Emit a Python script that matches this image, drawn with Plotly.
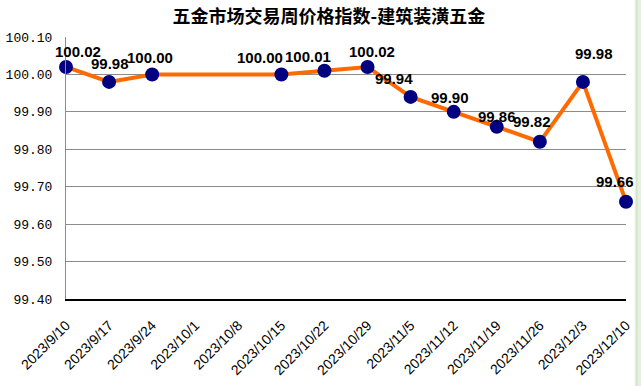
import plotly.graph_objects as go

categories = ["2023/9/10", "2023/9/17", "2023/9/24", "2023/10/1", "2023/10/8",
              "2023/10/15", "2023/10/22", "2023/10/29", "2023/11/5", "2023/11/12",
              "2023/11/19", "2023/11/26", "2023/12/3", "2023/12/10"]
values = [100.02, 99.98, 100.00, None, None, 100.00, 100.01, 100.02,
          99.94, 99.90, 99.86, 99.82, 99.98, 99.66]
y_ticks = [99.40, 99.50, 99.60, 99.70, 99.80, 99.90, 100.00, 100.10]
title = "五金市场交易周价格指数-建筑装潢五金"

# label placement offsets (pixels), styling only
label_dx = [12, 1, -2, 0, 0, -21, -16, 4, -17, -4, 0, -8, 11, -11]
label_dy = [15, 18, 17, 0, 0, 17, 14, 15, 18, 14, 10, 20, 28, 20]

fig = go.Figure()
fig.add_trace(go.Scatter(
    x=categories, y=values, mode="lines+markers", connectgaps=True,
    line=dict(color="#FF6A00", width=4),
    marker=dict(color="#000080", size=14),
    cliponaxis=False, showlegend=False, hoverinfo="skip",
))

for i, (c, v) in enumerate(zip(categories, values)):
    if v is None:
        continue
    fig.add_annotation(
        x=c, y=v, text=f"{v:.2f}", showarrow=False,
        xanchor="center", yanchor="middle",
        xshift=label_dx[i], yshift=label_dy[i],
        font=dict(family="Liberation Sans, Arial", size=15, color="black", weight="bold"),
    )

fig.add_shape(type="rect", xref="paper", yref="paper", x0=1.0155, x1=1.03, y0=-0.5, y1=1.2,
              fillcolor="#E6F1E0", line=dict(width=0), layer="below")
fig.add_shape(type="line", xref="paper", yref="paper", x0=1.0195, x1=1.0195, y0=-0.5, y1=1.2,
              line=dict(color="#C6DFBA", width=1))

fig.update_layout(
    width=641, height=386,
    margin=dict(l=66, r=15, t=37, b=87, autoexpand=False),
    paper_bgcolor="white", plot_bgcolor="white",
    title=dict(text=title, x=0.513, xref="container", xanchor="center", y=0.957, yanchor="middle",
               font=dict(family="Noto Sans CJK SC", size=18, color="black", weight="bold")),
    xaxis=dict(
        type="category", categoryorder="array", categoryarray=categories,
        range=[0, len(categories) - 1], automargin=False,
        tickangle=-45, showgrid=False,
        showline=True, linecolor="black", linewidth=1.5,
        ticks="", ticklabelstandoff=11,
        tickfont=dict(family="Liberation Sans, Arial", size=14, color="black"),
    ),
    yaxis=dict(
        range=[99.40, 100.10], tickvals=y_ticks, automargin=False,
        ticktext=[f"{t:.2f}" for t in y_ticks],
        showgrid=True, gridcolor="#8C8C8C", gridwidth=1,
        showline=True, linecolor="#8C8C8C", linewidth=1,
        zeroline=False, ticks="", ticklabelstandoff=10,
        tickfont=dict(family="Liberation Mono", size=13, color="black"),
    ),
)

fig.write_html("out.html", config={"displayModeBar": False},
               post_script="document.body.style.margin='0';")
